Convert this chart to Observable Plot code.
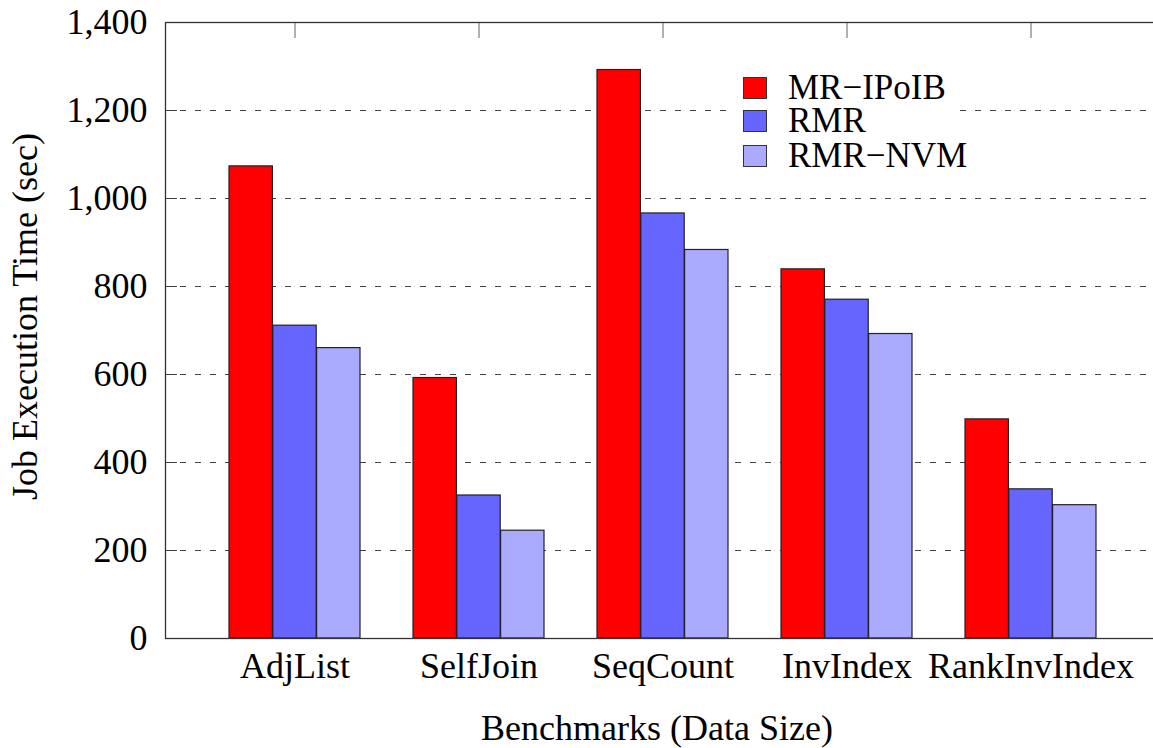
<!DOCTYPE html>
<html><head><meta charset="utf-8">
<script src="https://cdn.jsdelivr.net/npm/d3@7"></script>
<script src="https://cdn.jsdelivr.net/npm/@observablehq/plot@0.6"></script>
<style>
html,body{margin:0;padding:0;overflow:hidden;background:#fff;}
#wrap{position:relative;width:1153px;height:748px;overflow:hidden;}
#legend{position:absolute;left:728px;top:62px;width:226px;height:120px;background:#fff;font-family:"Liberation Serif",serif;font-size:35px;color:#000;}
.item{position:absolute;left:15px;height:32px;display:flex;align-items:center;white-space:nowrap;line-height:32px;}
.sw{width:24px;height:22px;border:1.3px solid #333;box-sizing:border-box;margin-right:21px;flex:none;}
</style></head><body><div id="wrap"><div id="legend"></div></div>
<script>
const categories = ["AdjList", "SelfJoin", "SeqCount", "InvIndex", "RankInvIndex"];
const seriesNames = ["MR\u2212IPoIB", "RMR", "RMR\u2212NVM"];
const mrIPoIB = [1073, 592, 1292, 839, 498];
const rmr = [711, 325, 966, 770, 339];
const rmrNVM = [660, 245, 883, 692, 303];
const yTicks = [0, 200, 400, 600, 800, 1000, 1200, 1400];
const colors = ["#ff0000", "#6666ff", "#aaaaff"];

const seriesValues = [mrIPoIB, rmr, rmrNVM];
const rows = [];
seriesValues.forEach((vals, s) => vals.forEach((v, i) => rows.push({category: categories[i], series: seriesNames[s], s, value: v})));

const W = 1153, H = 748;
const mL = 165, mR = -7, mT = 22, mB = 110;
const pInner = 0.288, pOuter = 0.34;
const step = (W - mR - mL) / (categories.length - pInner + 2 * pOuter);
const bw = step * (1 - pInner);
const sub = bw / 3;

const barMarks = seriesNames.map((name, s) =>
  Plot.barY(rows.filter(d => d.s === s), {
    x: "category", y: "value", fill: colors[s],
    stroke: "#222", strokeWidth: 1.2,
    insetLeft: s * sub, insetRight: (2 - s) * sub
  })
);

const chart = Plot.plot({
  width: W, height: H,
  marginLeft: mL, marginRight: mR, marginTop: mT, marginBottom: mB,
  style: {fontFamily: "'Liberation Serif', serif", fontSize: "36px", color: "#000", background: "#fff", overflow: "hidden"},
  x: {type: "band", domain: categories, paddingInner: pInner, paddingOuter: pOuter},
  y: {domain: [0, 1400]},
  marks: [
    Plot.ruleY(yTicks.filter(d => d > 0 && d < 1400), {stroke: "#444", strokeDasharray: "6,9", strokeWidth: 1.2}),
    ...barMarks,
    Plot.axisY({ticks: yTicks, tickFormat: d3.format(","), tickSize: -12, tickPadding: 30, label: null, stroke: "#444"}),
    Plot.axisX({anchor: "bottom", tickSize: 0, tickPadding: 14, label: null}),
    Plot.axisX({anchor: "top", tickSize: -15, tickFormat: () => "", label: null, stroke: "#666"}),
    Plot.frame({stroke: "#333", strokeWidth: 1.3}),
    Plot.text(["Job Execution Time (sec)"], {frameAnchor: "left", textAnchor: "middle", lineAnchor: "middle", rotate: -90, dx: -140, dy: -14, fontSize: 36}),
    Plot.text(["Benchmarks (Data Size)"], {frameAnchor: "bottom", textAnchor: "middle", lineAnchor: "middle", dx: -6, dy: 90, fontSize: 36})
  ]
});
document.getElementById("wrap").prepend(chart);

const legend = document.getElementById("legend");
const centers = [88.3, 120.5, 155.7];
seriesNames.forEach((name, s) => {
  const item = document.createElement("div");
  item.className = "item";
  item.style.top = (centers[s] - 62 - 16) + "px";
  const sw = document.createElement("div");
  sw.className = "sw";
  sw.style.background = colors[s];
  item.appendChild(sw);
  const t = document.createElement("span");
  t.textContent = name;
  item.appendChild(t);
  legend.appendChild(item);
});
</script></body></html>
